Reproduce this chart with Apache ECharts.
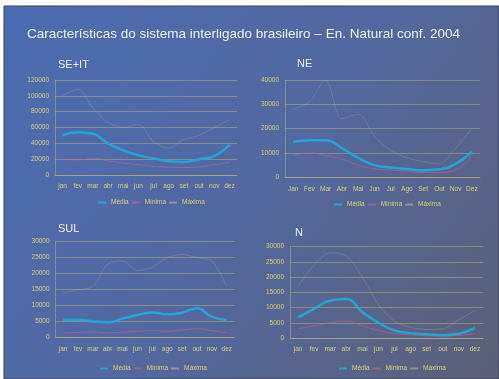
<!DOCTYPE html>
<html>
<head>
<meta charset="utf-8">
<script src="https://cdn.jsdelivr.net/npm/echarts@6/dist/echarts.min.js"></script>
<style>
  html, body { margin: 0; padding: 0; background: #ffffff; }
  #chart { width: 499px; height: 379px; }
</style>
</head>
<body>
<div id="chart"></div>
<script>
// Natural energy by subsystem, 2004 configuration (MWmed)
const meses   = ['jan', 'fev', 'mar', 'abr', 'mai', 'jun', 'jul', 'ago', 'set', 'out', 'nov', 'dez'];
const mesesNE = ['Jan', 'Fev', 'Mar', 'Abr', 'Mai', 'Jun', 'Jul', 'Ago', 'Set', 'Out', 'Nov', 'Dez'];
const legenda = ['Média', 'Mínima', 'Máxima'];

const seMedia  = [50000, 54000, 52000, 40000, 31000, 25000, 21000, 17500, 16500, 20000, 24000, 38000];
const seMinima = [20000, 19000, 21000, 18000, 15000, 13000, 11000, 10000, 9500, 10500, 13000, 16000];
const seMaxima = [100000, 108000, 85000, 66000, 60000, 64000, 42000, 34000, 45000, 50000, 60000, 70000];

const neMedia  = [14500, 15200, 15200, 12000, 8000, 5000, 4000, 3400, 2900, 3300, 5500, 10500];
const neMinima = [9000, 10000, 9000, 7500, 5000, 3500, 3000, 2500, 2000, 2000, 3000, 9000];
const neMaxima = [28000, 31000, 40000, 24000, 26000, 17000, 11000, 8000, 6500, 5500, 12000, 20000];

const sulMedia  = [5500, 5600, 5100, 4800, 6000, 7100, 7900, 7300, 7800, 9200, 6500, 5500];
const sulMinima = [1500, 1600, 1800, 1500, 1700, 2000, 2200, 2000, 2400, 2800, 2200, 1500];
const sulMaxima = [14000, 15000, 16000, 23000, 24000, 21000, 22000, 25000, 26000, 25000, 24000, 16000];

const nMedia  = [6800, 9600, 12300, 12800, 8500, 5000, 2500, 1600, 1200, 900, 1400, 3300];
const nMinima = [3000, 4000, 5000, 5500, 4000, 2500, 1500, 1000, 700, 600, 800, 1500];
const nMaxima = [17000, 24000, 28000, 27000, 20000, 11000, 5500, 3500, 2800, 3000, 6000, 9000];

const tituloGeral = 'Características do sistema interligado brasileiro – En. Natural conf. 2004';

// Panel data, paired with its axis range
const paineis = [
  { nome: 'SE+IT', cats: meses,   media: seMedia,  min: seMinima,  max: seMaxima,  yMax: 120000, passo: 20000 },
  { nome: 'NE',    cats: mesesNE, media: neMedia,  min: neMinima,  max: neMaxima,  yMax: 40000,  passo: 10000 },
  { nome: 'SUL',   cats: meses,   media: sulMedia, min: sulMinima, max: sulMaxima, yMax: 30000,  passo: 5000 },
  { nome: 'N',     cats: meses,   media: nMedia,   min: nMinima,   max: nMaxima,   yMax: 30000,  passo: 5000 }
];

// Layout of each panel on the slide
const layout = [
  { grid: { left: 55,   top: 80,    width: 182,   height: 95 },   titulo: [58, 59],  leg: [98, 199] },
  { grid: { left: 285,  top: 80,    width: 195,   height: 97.3 }, titulo: [297, 58], leg: [334, 201] },
  { grid: { left: 55.6, top: 241.7, width: 178.6, height: 96 },   titulo: [58, 223], leg: [100, 365] },
  { grid: { left: 290,  top: 246.7, width: 193,   height: 91.3 }, titulo: [295, 227], leg: [339, 365] }
];

const corTexto = '#ddd07a';
const corGrade = 'rgba(215, 200, 110, 0.38)';
const fonte = 'Liberation Sans, Arial, sans-serif';

const chart = echarts.init(document.getElementById('chart'), null, { renderer: 'canvas' });

const grids = [], xAxes = [], yAxes = [], series = [], legends = [];
const titles = [{
  text: tituloGeral, left: 27, top: 27, padding: 0,
  textStyle: { color: '#eef1f8', fontSize: 13.5, fontWeight: 'normal', fontFamily: fonte }
}];

paineis.forEach((p, i) => {
  const L = layout[i];
  grids.push(L.grid);
  titles.push({
    text: p.nome, left: L.titulo[0], top: L.titulo[1], padding: 0,
    textStyle: { color: '#eef1f8', fontSize: 11, fontWeight: 'normal', fontFamily: fonte }
  });
  xAxes.push({
    type: 'category', gridIndex: i, data: p.cats, boundaryGap: true,
    axisLine: { show: true, lineStyle: { color: corGrade } },
    axisTick: { show: false },
    axisLabel: { color: corTexto, fontSize: 6.5, margin: 8, interval: 0, fontFamily: fonte }
  });
  yAxes.push({
    type: 'value', gridIndex: i, min: 0, max: p.yMax, interval: p.passo,
    axisLine: { show: true, lineStyle: { color: corGrade } },
    axisTick: { show: false },
    splitLine: { lineStyle: { color: corGrade, width: 1 } },
    axisLabel: { color: corTexto, fontSize: 6.5, margin: 6, fontFamily: fonte, formatter: v => String(v) }
  });
  series.push({
    name: 'Máxima', type: 'line', xAxisIndex: i, yAxisIndex: i, data: p.max,
    symbol: 'none', smooth: 0.3,
    lineStyle: { color: 'rgba(210, 202, 150, 0.22)', width: 1 },
    itemStyle: { color: 'rgba(210, 202, 150, 0.45)' }
  });
  series.push({
    name: 'Mínima', type: 'line', xAxisIndex: i, yAxisIndex: i, data: p.min,
    symbol: 'none', smooth: true,
    lineStyle: { color: 'rgba(205, 95, 150, 0.6)', width: 1 },
    itemStyle: { color: 'rgba(205, 95, 150, 0.6)' }
  });
  series.push({
    name: 'Média', type: 'line', xAxisIndex: i, yAxisIndex: i, data: p.media,
    symbol: 'none', smooth: true,
    lineStyle: { color: '#22a4d6', width: 2.5 },
    itemStyle: { color: '#22a4d6' }
  });
  legends.push({
    data: legenda, left: L.leg[0], top: L.leg[1], padding: 0,
    icon: 'rect', itemWidth: 8, itemHeight: 2, itemGap: 3,
    textStyle: { color: corTexto, fontSize: 6.5, fontFamily: fonte }
  });
});

chart.setOption({
  animation: false,
  graphic: [{
    type: 'rect', z: -10, silent: true,
    shape: { x: 4, y: 6, width: 495, height: 373 },
    style: {
      fill: new echarts.graphic.LinearGradient(0, 0, 1, 1, [
        { offset: 0, color: '#4a6db2' },
        { offset: 0.5, color: '#5268a0' },
        { offset: 1, color: '#5c6078' }
      ]),
      stroke: '#3a3f55', lineWidth: 1
    }
  }],
  title: titles,
  grid: grids,
  xAxis: xAxes,
  yAxis: yAxes,
  legend: legends,
  series: series
});
</script>
</body>
</html>
